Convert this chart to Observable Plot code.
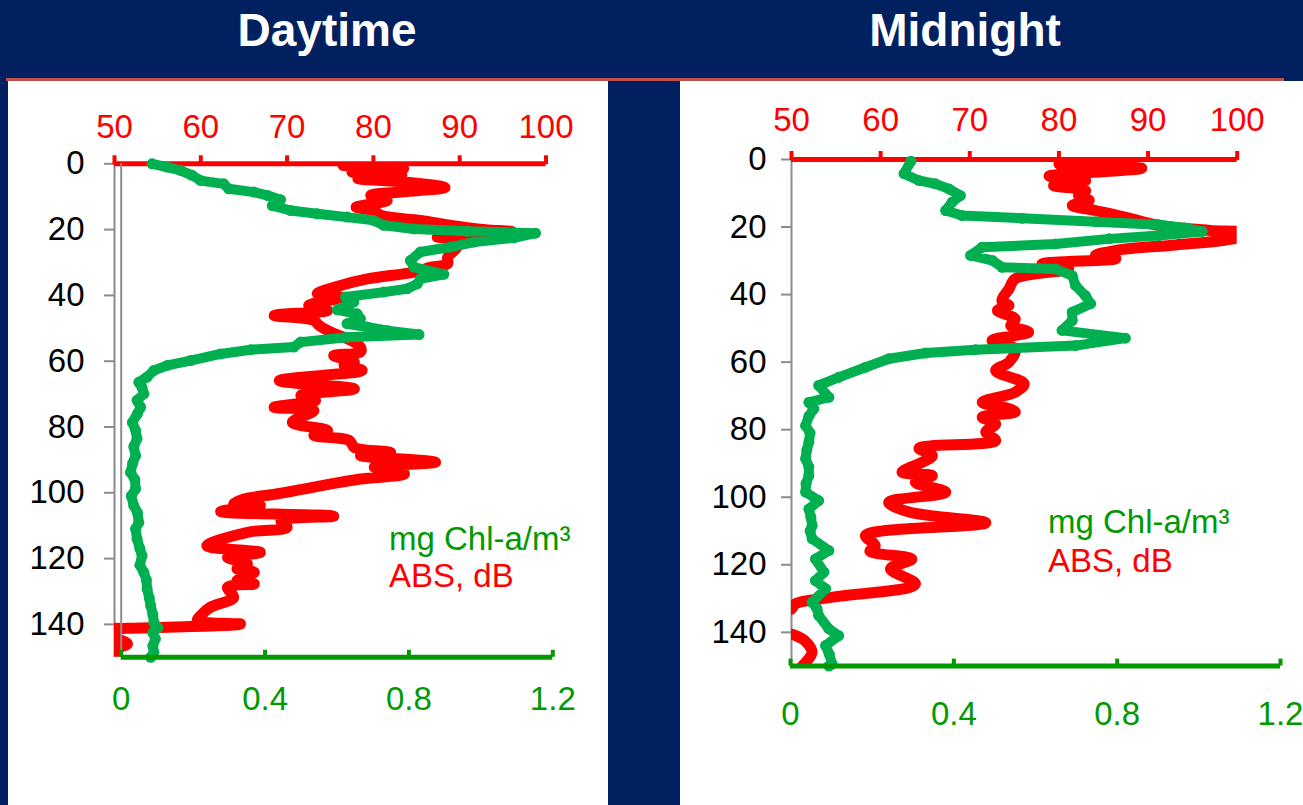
<!DOCTYPE html>
<html><head><meta charset="utf-8">
<script src="https://cdn.jsdelivr.net/npm/d3@7"></script>
<script src="https://cdn.jsdelivr.net/npm/@observablehq/plot@0.6"></script>
<style>
html,body{margin:0;padding:0;background:#002060;}
#page{position:relative;width:1303px;height:805px;background:#002060;overflow:hidden;font-family:"Liberation Sans",Arial,sans-serif;}
.title{position:absolute;top:7px;color:#fff;font-weight:bold;font-size:46px;line-height:1;transform:translateX(-50%);white-space:nowrap;}
.sep{position:absolute;left:6px;top:78px;width:1278px;height:3px;background:#C0504D;}
.panel{position:absolute;top:81px;height:724px;background:#fff;}
.leg{position:absolute;font-size:33px;line-height:1;white-space:nowrap;}
</style>
</head><body>
<div id="page">
  <div class="title" style="left:327px">Daytime</div>
  <div class="title" style="left:965px">Midnight</div>
  <div class="sep"></div>
  <div class="panel" style="left:8px;width:600px"></div>
  <div class="panel" style="left:680px;width:623px"></div>
</div>
<script>
// ---- axis ticks ----
const redTicks = [50, 60, 70, 80, 90, 100];
const greenTicks = [0, 0.4, 0.8, 1.2];
const depthTicks = [0, 20, 40, 60, 80, 100, 120, 140];
const legendChl = "mg Chl-a/m³";
const legendAbs = "ABS, dB";

// ---- Daytime ABS, dB (red) ----
const dayAbsDepth = [0.5,1.5,2.5,3.5,4.5,5.5,7.2,8.2,9.6,11.1,13.2,14.2,15.7,17.2,18.7,20.0,20.6,21.4,22.3,22.8,24.5,26.3,28.4,30.4,31.4,32.9,35.0,37.0,39.5,40.5,43.1,44.6,46.1,47.6,49.1,51.2,53.2,55.7,57.2,58.3,60.3,61.3,62.8,65.9,68.4,70.4,71.9,74.0,75.0,78.6,81.1,82.6,84.1,86.2,87.7,88.7,90.7,92.2,94.3,95.8,97.3,100.3,101.9,103.4,103.9,105.7,107.1,108.5,110.5,112.0,116.1,118.1,119.6,121.6,123.1,124.2,126.7,127.7,128.7,131.8,134.8,137.3,138.8,139.9,141.2,141.6,143.5,144.4,145.9,147.5,150];
const dayAbs = [76.5,83.5,77.5,83.3,78.2,83.5,88.3,85.0,79.7,81.6,78.0,80.1,80.9,85.5,89.0,93.0,96.0,91.0,87.4,91.7,90.0,89.4,88.6,88.6,86.7,84.7,79.3,76.2,73.5,76.2,72.5,74.7,68.5,73.1,73.7,75.1,77.0,78.5,78.5,75.4,77.8,76.6,78.7,69.1,77.8,71.6,73.3,68.5,73.1,70.6,74.7,73.1,77.2,77.8,82.0,78.5,87.2,80.1,83.6,78.5,75.1,68.9,65.0,63.8,66.9,62.3,75.4,69.3,70.0,65.4,60.7,66.9,63.1,65.4,64.2,66.2,64.2,66.2,63.1,63.8,61.1,60.0,59.6,64.6,51.5,48.5,49.0,50.3,51.5,50.3,50.3];

// ---- Daytime Chl-a (green) ----
const dayChlDepth = [0,1.0,2.0,3.5,5.1,6.1,7.6,8.6,9.6,10.9,12.7,14.2,15.2,16.2,17.2,18.7,19.8,20.5,21.1,22.5,23.8,25.3,26.8,29.4,31.4,33.6,35.0,36.5,38.0,39.0,40.5,42.0,44.4,45.6,47.1,48.6,49.6,50.7,51.9,52.7,54.2,55.7,56.5,57.8,59.8,61.3,62.8,64.8,66.4,68.0,69.9,71.9,74.0,76,78.6,81,83.6,86,88.7,91,93.8,96,98.8,101,103.9,106,109.0,111,114.0,117,119.1,122,124.2,126.5,129.2,132,134.3,137,139.4,141,142.5,144.4,146.5,148.5,150];
const dayChl = [0.086,0.128,0.165,0.197,0.221,0.285,0.299,0.369,0.406,0.443,0.420,0.471,0.545,0.628,0.702,0.730,0.814,0.962,1.152,1.092,0.981,0.916,0.832,0.804,0.814,0.897,0.832,0.823,0.795,0.730,0.624,0.647,0.601,0.656,0.665,0.628,0.684,0.740,0.828,0.628,0.499,0.480,0.360,0.276,0.193,0.128,0.091,0.072,0.049,0.058,0.063,0.044,0.054,0.045,0.031,0.040,0.044,0.035,0.040,0.032,0.026,0.038,0.040,0.028,0.035,0.045,0.049,0.040,0.044,0.052,0.058,0.052,0.063,0.070,0.072,0.078,0.082,0.088,0.091,0.102,0.088,0.095,0.088,0.091,0.082];

// ---- Midnight ABS, dB (red) ----
const nightAbsDepth = [1.3,2.6,4.0,4.9,6.2,7.7,9.2,10.7,12.1,13.6,15.1,17.1,19.5,21.0,21.7,22.8,24.0,25.3,26.9,28.4,29.4,30.9,32.4,35.3,38.3,41.8,43.2,44.7,47.2,49.2,51.1,53.6,56.1,60.0,62.5,66.4,68.9,71.9,73.8,74.8,76.3,78.3,80.7,83.2,85.5,87.7,89.6,92.6,93.6,95.6,98.5,101.5,104.4,107.6,111.3,114.3,116.0,118.3,121.2,125.7,129.6,131.6,133.1,134.5,138.0,140.0,140.9,142.5,145.9,148.9,150];
const nightAbs = [80.0,89.3,83.0,78.9,83.0,79.4,83.0,82.2,83.4,81.5,84.1,87.5,91.2,97.0,100.8,100.5,98.3,93.1,86.4,84.1,86.4,78.1,81.1,75.1,74.4,73.6,74.4,73.1,75.1,74.6,76.6,72.5,75.1,74.4,72.9,76.1,75.1,71.4,74.4,75.1,71.4,72.9,71.8,72.9,64.3,65.8,64.7,62.4,65.8,63.9,67.3,60.9,63.2,71.8,58.3,59.4,58.8,63.5,61.1,63.9,54.6,50.4,50.0,48.0,47.0,49.0,50.4,51.5,52.3,51.6,51.2];

// ---- Midnight Chl-a (green) ----
const nightChlDepth = [0.5,4.2,6.2,7.2,8.7,10.7,12.6,15.1,16.6,17.4,18.4,19.3,20.3,21.3,22.5,23.5,25.0,26.0,28.4,29.9,31.9,32.4,34.4,37.3,40.3,42.7,45.2,47.7,50.6,52.9,55.1,56.3,57.3,59.0,61.5,64.5,66.9,70.4,71.9,73.8,76,78.8,81,83.7,86,88.6,91,93.6,96,98.5,101.0,103.5,106,108.4,110,112.3,115.8,118.3,122.2,124.7,127.1,131.1,133,135.0,139.0,141.0,143.9,146.5,149.4,150];
const nightChl = [0.295,0.278,0.314,0.355,0.388,0.416,0.396,0.380,0.420,0.567,0.747,0.902,0.967,1.008,0.902,0.780,0.649,0.469,0.441,0.494,0.518,0.649,0.690,0.698,0.722,0.735,0.690,0.690,0.665,0.820,0.698,0.453,0.331,0.241,0.184,0.118,0.069,0.094,0.045,0.057,0.045,0.037,0.048,0.045,0.040,0.037,0.045,0.045,0.038,0.037,0.069,0.045,0.050,0.053,0.048,0.053,0.094,0.061,0.082,0.061,0.086,0.053,0.065,0.069,0.094,0.118,0.086,0.095,0.102,0.094];

const RED = "#FF0000", GREEN = "#00B050", AXG = "#009900", GRAY = "#8C8C8C";
const FONT = "'Liberation Sans', Arial, sans-serif";
const rows = (ds, vs) => ds.map((d, i) => ({d, v: vs[i]}));
const page = document.getElementById("page");

function panel(c) {
  const red = Plot.plot({
    width: c.w, height: 724,
    marginTop: c.mt, marginBottom: c.mb, marginLeft: c.rl, marginRight: c.rr,
    style: {background: "transparent", fontFamily: FONT, overflow: "visible"},
    x: {domain: [50, 100], axis: null},
    y: {domain: [0, 150], reverse: true, axis: null},
    marks: [
      Plot.ruleX([50], {stroke: GRAY, strokeWidth: 2}),
      Plot.axisY({anchor: "left", label: null, ticks: depthTicks, tickSize: 10, tickPadding: c.ypad, stroke: GRAY, strokeWidth: 2, fill: "black", fontSize: 33, tickFormat: d => String(d)}),
      Plot.line(rows(c.absD, c.abs), {x: "v", y: "d", stroke: RED, strokeWidth: 11, curve: "catmull-rom", clip: true, strokeLinejoin: "round", strokeLinecap: "round"}),
      Plot.ruleY([0], {stroke: RED, strokeWidth: 5}),
      Plot.axisX({anchor: "top", label: null, ticks: redTicks, tickSize: 9, tickPadding: c.rpad, stroke: RED, strokeWidth: 4, fill: RED, fontSize: 33, tickFormat: d => String(d)})
    ]
  });
  const green = Plot.plot({
    width: c.w, height: 724,
    marginTop: c.mt, marginBottom: c.mb, marginLeft: c.gl, marginRight: c.gr,
    style: {background: "transparent", fontFamily: FONT, overflow: "visible"},
    x: {domain: [0, 1.2], axis: null},
    y: {domain: [0, 150], reverse: true, axis: null},
    marks: [
      c.zeroLine ? Plot.ruleX([0], {stroke: GRAY, strokeWidth: 2}) : null,
      Plot.line(rows(c.chlD, c.chl), {x: "v", y: "d", stroke: GREEN, strokeWidth: 10, strokeLinejoin: "round", strokeLinecap: "round"}),
      Plot.dot(rows(c.chlD, c.chl), {x: "v", y: "d", r: 5.5, fill: GREEN, stroke: null}),
      Plot.ruleY([150], {stroke: AXG, strokeWidth: 5}),
      Plot.axisX({anchor: "bottom", label: null, ticks: greenTicks, tickSize: -7, tickPadding: c.gpad, stroke: AXG, strokeWidth: 4, fill: AXG, fontSize: 33, tickFormat: d => String(d)})
    ]
  });
  for (const s of [red, green]) {
    s.style.position = "absolute";
    s.style.left = c.x + "px";
    s.style.top = "81px";
    s.style.maxWidth = "none";
    page.appendChild(s);
  }
  const l1 = document.createElement("div");
  l1.className = "leg"; l1.style.color = AXG; l1.style.left = c.lx + "px"; l1.style.top = c.ly1 + "px";
  l1.textContent = legendChl;
  const l2 = document.createElement("div");
  l2.className = "leg"; l2.style.color = RED; l2.style.left = c.lx + "px"; l2.style.top = c.ly2 + "px";
  l2.textContent = legendAbs;
  page.appendChild(l1); page.appendChild(l2);
}

panel({x: 8, w: 600, mt: 82.3, mb: 148.2, rl: 106, rr: 62.5, gl: 112.7, gr: 55.7,
  ypad: 20, rpad: 17, gpad: 36, zeroLine: true,
  absD: dayAbsDepth, abs: dayAbs, chlD: dayChlDepth, chl: dayChl,
  lx: 389, ly1: 522, ly2: 559});
panel({x: 680, w: 623, mt: 78, mb: 139.4, rl: 111, rr: 66.3, gl: 110, gr: 23,
  ypad: 15, rpad: 19.5, gpad: 42, zeroLine: false,
  absD: nightAbsDepth, abs: nightAbs, chlD: nightChlDepth, chl: nightChl,
  lx: 1048, ly1: 505, ly2: 544});
</script>
</body></html>
